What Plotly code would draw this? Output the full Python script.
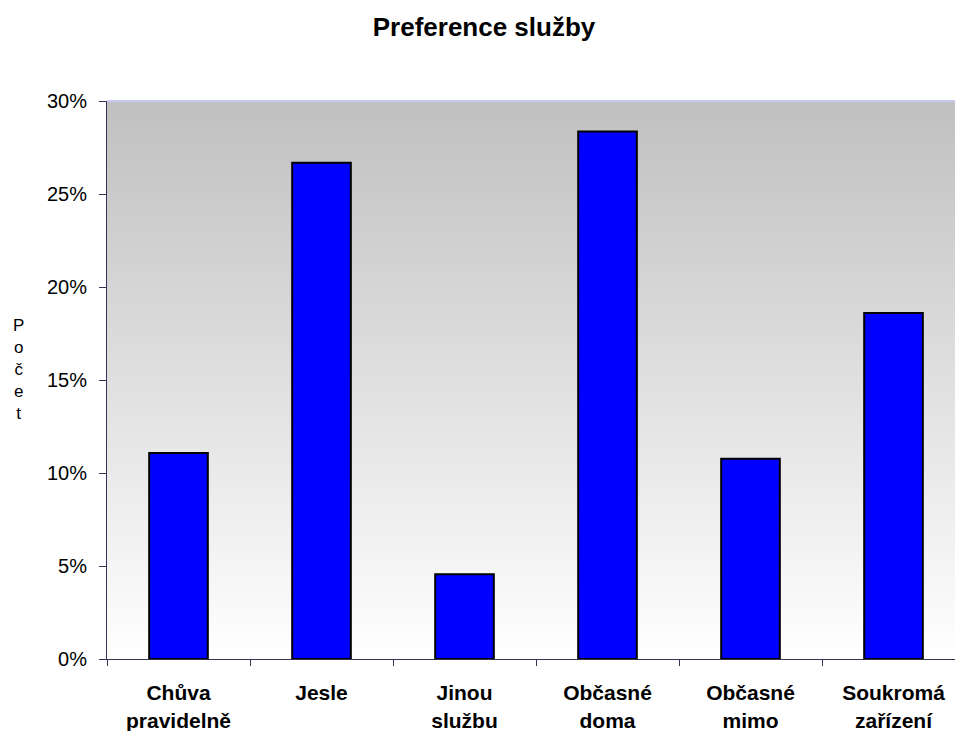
import base64
import plotly.graph_objects as go

categories = ["Chůva<br>pravidelně", "Jesle", "Jinou<br>službu",
              "Občasné<br>doma", "Občasné<br>mimo", "Soukromá<br>zařízení"]
values = [0.1108, 0.2668, 0.0456, 0.2836, 0.1076, 0.1860]
y_ticks = [0, 0.05, 0.10, 0.15, 0.20, 0.25, 0.30]
y_tick_labels = ["0%", "5%", "10%", "15%", "20%", "25%", "30%"]

W, H = 955, 731
ML, MT, MB, MR = 107, 101, 72, 0
plot_w = W - ML - MR
cat_px = 143.0

svg = ('<svg xmlns="http://www.w3.org/2000/svg" width="100" height="100" preserveAspectRatio="none">'
       '<defs><linearGradient id="g" x1="0" y1="0" x2="0" y2="1">'
       '<stop offset="0" stop-color="#c0c0c0"/><stop offset="1" stop-color="#ffffff"/>'
       '</linearGradient></defs><rect width="100" height="100" fill="url(#g)"/></svg>')
svg_uri = "data:image/svg+xml;base64," + base64.b64encode(svg.encode()).decode()

fig = go.Figure()
fig.add_trace(go.Bar(
    x=categories, y=values, width=0.41,
    marker=dict(color="#0000ff", line=dict(color="#000000", width=2)),
    hoverinfo="skip",
))

font_family = "Liberation Sans, Arial, sans-serif"

fig.update_layout(
    width=W, height=H,
    margin=dict(l=ML, r=MR, t=MT, b=MB, pad=0),
    paper_bgcolor="#ffffff",
    plot_bgcolor="rgba(0,0,0,0)",
    showlegend=False,
    font=dict(family=font_family, color="#000000"),
    title=dict(text="<b>Preference služby</b>", x=484 / W, xanchor="center",
               xref="container",
               y=1 - 27 / H, yanchor="middle", yref="container",
               font=dict(size=26, family=font_family, color="#000000")),
    images=[dict(source=svg_uri, xref="paper", yref="paper", x=0, y=1,
                 sizex=1, sizey=1, sizing="stretch", layer="below",
                 xanchor="left", yanchor="top")],
    shapes=[dict(type="line", xref="paper", yref="paper", x0=0, x1=1, y0=1, y1=1,
                 line=dict(color="#c8c8f4", width=2))],
    annotations=[dict(text="P<br>o<br>č<br>e<br>t", xref="paper", yref="paper",
                      x=(18 - ML) / plot_w, y=1 - (369 - MT) / (H - MT - MB),
                      xanchor="center", yanchor="middle", showarrow=False,
                      font=dict(size=17, family=font_family, color="#000000"))],
    xaxis=dict(
        type="category",
        range=[-0.5, -0.5 + plot_w / cat_px],
        tickson="boundaries",
        ticks="outside", ticklen=6, tickwidth=1, tickcolor="#333355",
        showline=True, linecolor="#333355", linewidth=1,
        showgrid=False, zeroline=False,
        tickfont=dict(size=21, family=font_family, color="#000000", weight="bold"),
        ticklabelstandoff=15,
        fixedrange=True,
    ),
    yaxis=dict(
        range=[0, 0.30],
        tickvals=y_ticks, ticktext=y_tick_labels,
        ticks="outside", ticklen=7, tickwidth=1, tickcolor="#333355",
        showline=True, linecolor="#333355", linewidth=1,
        showgrid=False, zeroline=False,
        tickfont=dict(size=20, family=font_family, color="#000000"),
        ticklabelstandoff=8,
        fixedrange=True,
    ),
)

fig.write_html("out.html",
               config={"displayModeBar": False, "staticPlot": True},
               post_script="document.body.style.margin='0';document.body.style.overflow='hidden';")
